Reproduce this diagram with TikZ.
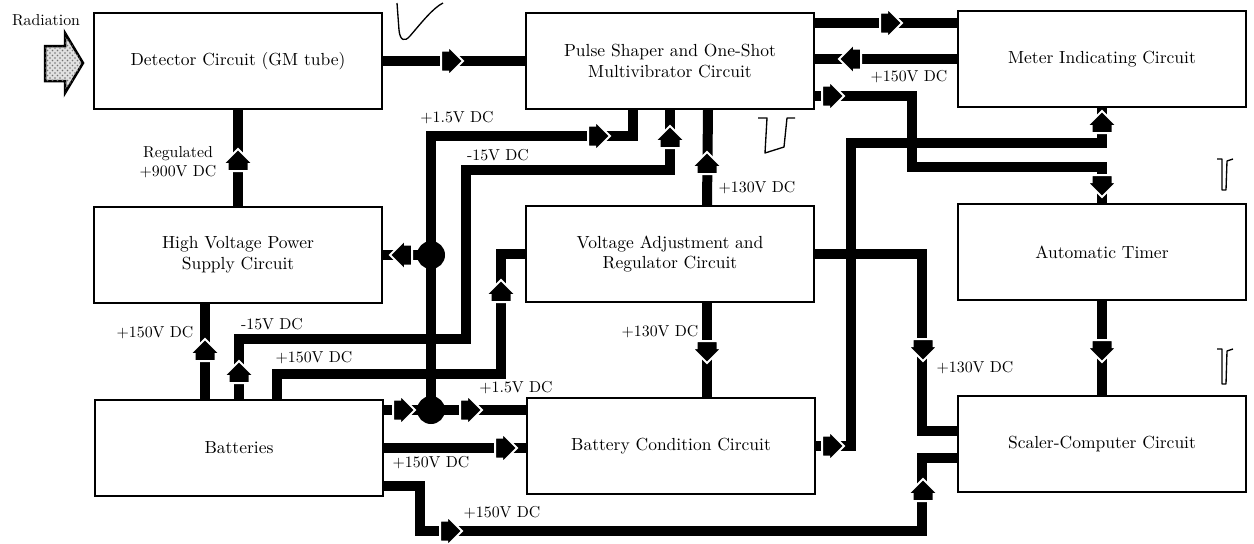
\documentclass[tikz,border=0pt]{standalone}
\usepackage{fontspec}
\usetikzlibrary{calc, patterns}

\begin{document}
\begin{tikzpicture}[x=0.6pt, y=-0.6pt,
    blk/.style={draw, line width=0.9pt, minimum width=172.8pt, minimum height=57.6pt, align=center, font=\fontsize{10.5}{12.5}\selectfont\addfontfeature{FakeBold=0.9}},
    wire/.style={line width=6pt},
    lbl/.style={inner sep=0pt, align=center, font=\fontsize{9.5}{11.5}\selectfont\addfontfeature{FakeBold=0.9}},
    wave/.style={line width=0.8pt, line join=round},
    flowhead/.pic={\fill[draw=white, line width=1.2pt] (-11,-10.5) -- (-4,-10.5) -- (-4,-15) -- (11,0) -- (-4,15) -- (-4,10.5) -- (-11,10.5) -- cycle;}]
    \useasboundingbox (0,0) rectangle (1254,543);
    % blocks
    \node[blk] (detector) at (238,61) {Detector Circuit (GM tube)};
    \node[blk] (shaper) at (670,61) {Pulse Shaper and One-Shot\\Multivibrator Circuit};
    \node[blk] (meter) at (1102,59) {Meter Indicating Circuit};
    \node[blk] (hvps) at (238,255) {High Voltage Power\\Supply Circuit};
    \node[blk] (vadj) at (670,254) {Voltage Adjustment and\\Regulator Circuit};
    \node[blk] (timer) at (1102,252) {Automatic Timer};
    \node[blk] (batt) at (239,448) {Batteries};
    \node[blk] (bcond) at (671,446) {Battery Condition Circuit};
    \node[blk] (scaler) at (1102,444) {Scaler-Computer Circuit};
    % junctions
    \coordinate (jhv) at (431,255);
    \coordinate (jbat) at (431,410);
    % radiation input
    \draw[line width=1.5pt, fill=black!12, postaction={pattern=crosshatch dots, pattern color=black!55}]
        (45,46) -- (65,46) -- (65,33) -- (83,63) -- (65,93) -- (65,81) -- (45,81) -- cycle;
    \node[lbl] (rad) at (46,20) {Radiation};
    % signal path
    \draw[wire] (detector.east) -- (shaper.west);
    \draw[wire] ($(shaper.east)+(0,-38)$) -- ($(meter.west)+(0,-36)$);
    \draw[wire] (meter.west) -- (shaper.east |- meter.west);
    \draw[wire] ($(shaper.east)+(0,35)$) -| (912,167) -| (timer.north);
    \draw[wire] (timer.south) -- (scaler.north);
    \draw[wire] (bcond.east) -| (851,143) -| (meter.south);
    % supply lines
    \draw[wire] (hvps.north) -- (detector.south);
    \draw[wire] ($(hvps.south)+(-33,0)$) -- ($(batt.north)+(-34,0)$);
    \draw[wire] (batt.north) |- (466,339) -- (466,170) -| (shaper.south);
    \draw[wire] ($(batt.north)+(38,0)$) |- (501,374) |- (vadj.west);
    \draw[wire] ($(batt.east)+(0,-38)$) -- (jbat) -- (jbat -| bcond.west);
    \draw[wire] (jbat) -- (431,136) -| ($(shaper.south)+(-37,0)$);
    \draw[wire] (jhv) -- (hvps.east |- jhv);
    \draw[wire] (batt.east) -- (bcond.west |- batt.east);
    \draw[wire] ($(batt.east)+(0,38)$) -| (420,531) -| ($(scaler.west)+(-35,14)$) -- ($(scaler.west)+(0,14)$);
    \draw[wire] ($(vadj.north)+(37,0)$) -- ($(shaper.south)+(38,0)$);
    \draw[wire] ($(vadj.south)+(37,0)$) -- ($(bcond.north)+(36,0)$);
    \draw[wire] (vadj.east) -| ($(scaler.west)+(-35,-13)$) -- ($(scaler.west)+(0,-13)$);
    \fill (jhv) circle (14);
    \fill (jbat) circle (14);
    % arrow heads
    \pic at (452,61) {flowhead};
    \pic at (891,23) {flowhead};
    \pic[rotate=180] at (850,59) {flowhead};
    \pic at (833,96) {flowhead};
    \pic[rotate=-90] at (1102,186) {flowhead};
    \pic[rotate=90] at (1102,122) {flowhead};
    \pic at (833,446) {flowhead};
    \pic[rotate=-90] at (1102,351) {flowhead};
    \pic[rotate=90] at (238,160) {flowhead};
    \pic[rotate=90] at (205,350) {flowhead};
    \pic[rotate=90] at (239,372) {flowhead};
    \pic[rotate=90] at (670,137) {flowhead};
    \pic[rotate=90] at (501,291) {flowhead};
    \pic at (404,410) {flowhead};
    \pic at (471,410) {flowhead};
    \pic at (599,136) {flowhead};
    \pic[rotate=180] at (401,255) {flowhead};
    \pic at (506,448) {flowhead};
    \pic at (451,531) {flowhead};
    \pic[rotate=90] at (923,490) {flowhead};
    \pic[rotate=90] at (707,163) {flowhead};
    \pic[rotate=-90] at (707,352) {flowhead};
    \pic[rotate=-90] at (923,350) {flowhead};
    % labels
    \node[lbl] (lreg) at (178,162) {Regulated\\+900V DC};
    \node[lbl] (lhv150) at (155,333) {+150V DC};
    \node[lbl] (lm15a) at (272,324) {-15V DC};
    \node[lbl] (lva150) at (314,358) {+150V DC};
    \node[lbl] (l15a) at (457,118) {+1.5V DC};
    \node[lbl] (lm15b) at (498,155) {-15V DC};
    \node[lbl] (l130a) at (757,188) {+130V DC};
    \node[lbl] (l130b) at (660,332) {+130V DC};
    \node[lbl] (l15b) at (516,388) {+1.5V DC};
    \node[lbl] (lbc150) at (431,463) {+150V DC};
    \node[lbl] (lsc150) at (502,513) {+150V DC};
    \node[lbl] (lsc130) at (975,368) {+130V DC};
    \node[lbl] (lmt150) at (909,77) {+150V DC};
    % waveforms
    \draw[wave] (397,3) -- (399,30) .. controls (400,41) and (405,42) .. (410,36) .. controls (422,22) and (433,8) .. (443,3);
    \draw[wave] (758,118) -- (767,118) -- (765,153) -- (784,147) -- (787,118) -- (795,118);
    \draw[wave] (1217,159) -- (1222,159) -- (1222,190) -- (1226,190) -- (1227,161) -- (1233,159);
    \draw[wave] (1217,349) -- (1222,349) -- (1222,384) -- (1226,384) -- (1227,351) -- (1233,349);
\end{tikzpicture}
\end{document}
